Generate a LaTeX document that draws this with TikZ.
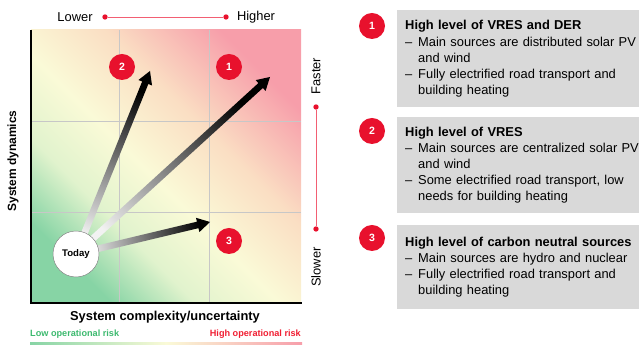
\documentclass[tikz,border=0pt]{standalone}
\usepackage{fontspec}
\setmainfont{Liberation Sans}
\definecolor{risk_green}{RGB}{135, 212, 165}
\definecolor{risk_mint}{RGB}{225, 243, 205}
\definecolor{risk_pale}{RGB}{250, 250, 215}
\definecolor{risk_peach}{RGB}{250, 222, 195}
\definecolor{risk_pink}{RGB}{247, 158, 170}
\definecolor{risk_red}{RGB}{232, 17, 45}
\definecolor{risk_line}{RGB}{242, 95, 115}
\definecolor{label_green}{RGB}{60, 185, 110}
\definecolor{label_red}{RGB}{240, 30, 50}
\definecolor{box_gray}{RGB}{217, 217, 217}
\usepackage{tikz}
\usetikzlibrary{calc, positioning}

\pgfdeclareverticalshading{riskshade}{100bp}{color(0bp)=(risk_green);
  color(25bp)=(risk_green); color(36bp)=(risk_mint); color(47bp)=(risk_pale);
  color(60bp)=(risk_peach); color(75bp)=(risk_pink); color(100bp)=(risk_pink)}
\pgfdeclarehorizontalshading{riskbar}{100bp}{color(0bp)=(risk_green);
  color(25bp)=(risk_green); color(50bp)=(risk_pale); color(75bp)=(risk_pink);
  color(100bp)=(risk_pink)}

\newcommand{\itm}{\makebox[3.9mm][l]{–}}
\newcommand{\fadearrow}[3]{%
  \coordinate (hb) at ($(#2)!3.8mm!(#1)$);
  \shade[bottom color=black!5, top color=black, shading angle=#3]
    ($(#1)!1mm!90:(#2)$) -- ($(hb)!1mm!90:(#2)$) -- ($(hb)!2.2mm!90:(#2)$)
    -- (#2) -- ($(hb)!2.2mm!-90:(#2)$) -- ($(hb)!1mm!-90:(#2)$)
    -- ($(#1)!1mm!-90:(#2)$) -- cycle;
}

\begin{document}
\begin{tikzpicture}[x=0.3mm, y=0.3mm,
    txt/.style={font=\fontsize{11}{13.7}\selectfont, inner sep=0},
    numdot/.style={circle, fill=risk_red, text=white, inner sep=0,
                   minimum size=7.8mm, font=\bfseries\fontsize{9}{9}\selectfont},
    rdot/.style={circle, fill=risk_red, inner sep=0, minimum size=1.6mm},
    grid/.style={black!22, line width=0.4pt},
    infobox/.style={fill=box_gray, anchor=north west, text width=72mm,
                    inner xsep=2.4mm, inner ysep=0, align=left,
                    font=\fontsize{11}{13.7}\selectfont},
  ]
  \useasboundingbox (0,0) rectangle (639,345);

  % plot area
  \shade[shading=riskshade, shading angle=-45] (31,42) rectangle (301,315);
  \foreach \x in {119,209}
    \draw[grid] (\x,42) -- (\x,315);
  \foreach \y in {133,224}
    \draw[grid] (31,\y) -- (301,\y);
  \draw[line width=1.5pt] (31,315) -- (31,42) -- (302,42);

  % arrows from today
  \coordinate (start) at (76,91);
  \coordinate (a1) at (270,268);
  \coordinate (a2) at (150,274);
  \coordinate (a3) at (210,123);
  \foreach \t/\a in {a1/-47.6, a2/-22, a3/-76.6}
    \fadearrow{start}{\t}{\a};

  \node[circle, draw=black!50, fill=white, minimum size=13.8mm, inner sep=0,
        font=\bfseries\fontsize{8.2}{8.2}\selectfont] (today) at (start) {Today};

  \node[numdot] (p2) at (122,278) {2};
  \node[numdot] (p1) at (229,278) {1};
  \node[numdot] (p3) at (229,104) {3};

  % scales
  \node[txt] (lower) at (75,328) {Lower};
  \node[rdot] (ldot) at (105,328) {};
  \node[rdot] (hdot) at (226,328) {};
  \node[txt] (higher) at (256,328) {Higher};
  \draw[risk_line] (ldot) -- (hdot);

  \node[txt, rotate=90] (faster) at (316,269) {Faster};
  \node[rdot] (fdot) at (316,238) {};
  \node[rdot] (sdot) at (316,116) {};
  \node[txt, rotate=90] (slower) at (316,78) {Slower};
  \draw[risk_line] (fdot) -- (sdot);

  % axis labels
  \node[inner sep=0, rotate=90, font=\bfseries\fontsize{10.2}{10.2}\selectfont]
    (ylab) at (13,184) {System dynamics};
  \node[inner sep=0, font=\bfseries\fontsize{11}{11}\selectfont]
    (xlab) at (165,28) {System complexity/uncertainty};
  \node[inner sep=0, anchor=west, text=label_green,
        font=\bfseries\fontsize{7.8}{7.8}\selectfont] (lowrisk) at (30,11) {Low operational risk};
  \node[inner sep=0, anchor=east, text=label_red,
        font=\bfseries\fontsize{7.8}{7.8}\selectfont] (highrisk) at (301,11) {High operational risk};
  \shade[shading=riskbar] (30,0) rectangle (302,2.5);

  % scenario panel
  \foreach \i/\y in {1/319, 2/214, 3/107}
    \node[numdot] (k\i) at (372,\y) {\i};

  \node[infobox, minimum height=29.1mm] (box1) at (397,335)
    {\textbf{High level of VRES and DER}\\
     \itm Main sources are distributed solar PV\\
     \hspace*{3.9mm}and wind\\
     \itm Fully electrified road transport and\\
     \hspace*{3.9mm}building heating};
  \node[infobox, minimum height=28.8mm] (box2) at (397,228)
    {\textbf{High level of VRES}\\
     \itm Main sources are centralized solar PV\\
     \hspace*{3.9mm}and wind\\
     \itm Some electrified road transport, low\\
     \hspace*{3.9mm}needs for building heating};
  \node[infobox, minimum height=25.2mm] (box3) at (397,120)
    {\textbf{High level of carbon neutral sources}\\
     \itm Main sources are hydro and nuclear\\
     \itm Fully electrified road transport and\\
     \hspace*{3.9mm}building heating};
\end{tikzpicture}
\end{document}
